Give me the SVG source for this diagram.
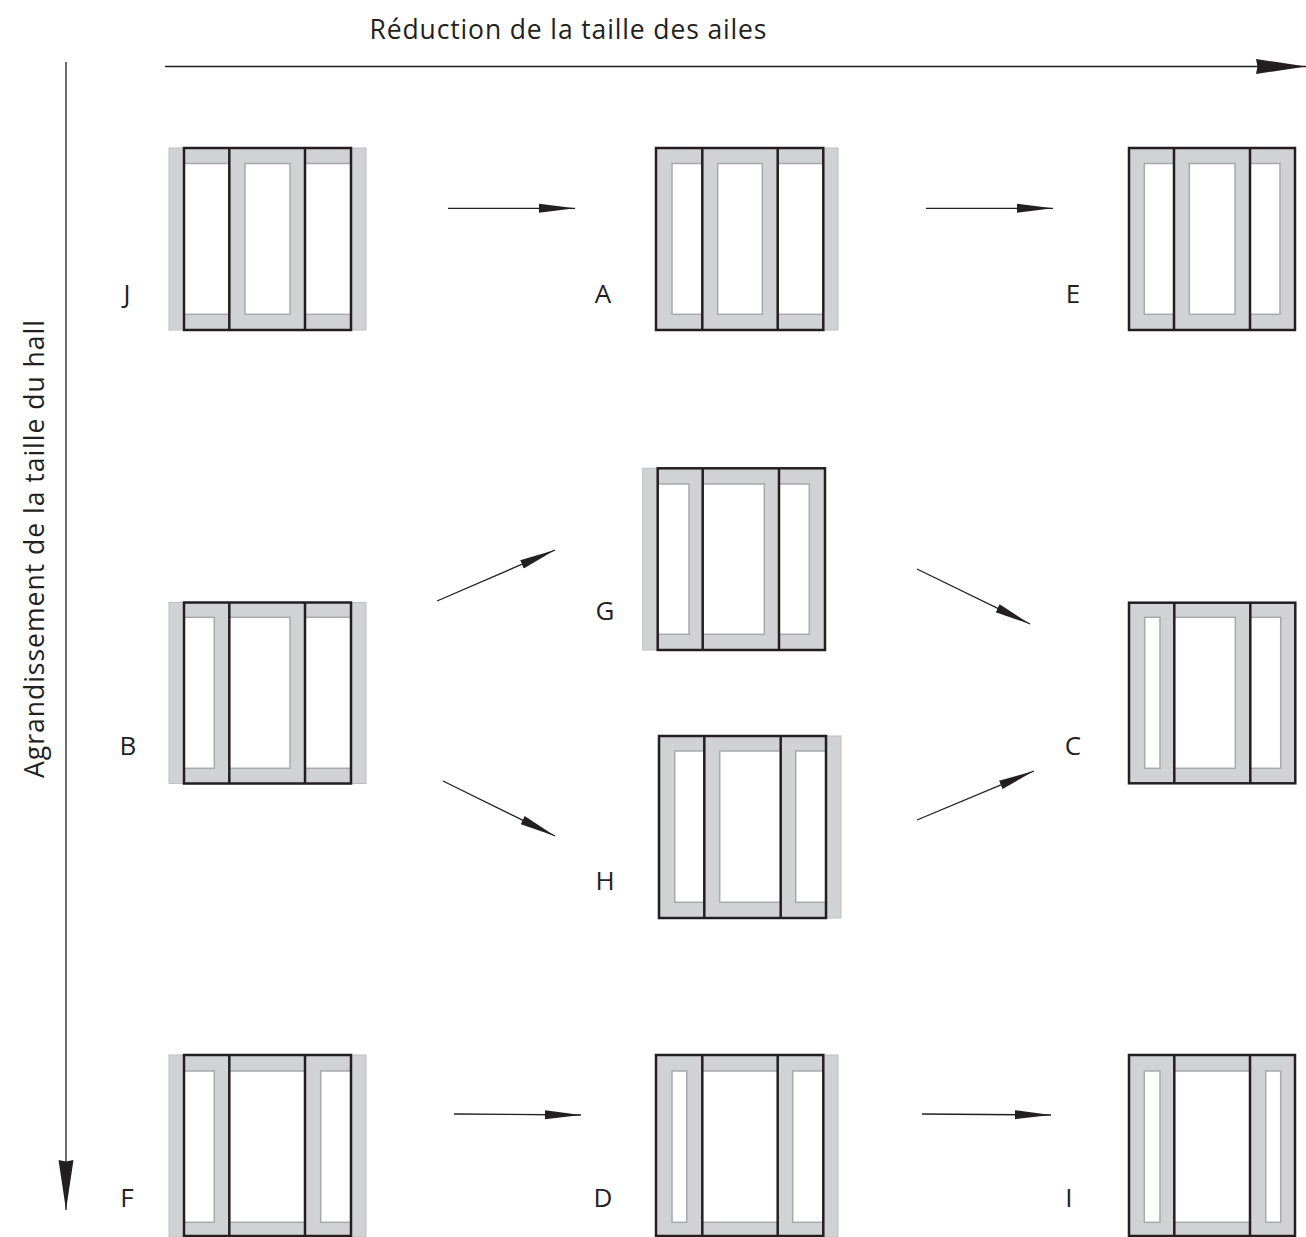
<svg xmlns="http://www.w3.org/2000/svg" width="1306" height="1237" viewBox="0 0 1306 1237">
<style>
.g{fill:#d1d2d4;stroke:#bcbec0;stroke-width:1}
.h{fill:#fff;stroke:#a7a9ac;stroke-width:1.5}
.k{fill:none;stroke:#231f20;stroke-width:2.5}
.c{stroke:#231f20;stroke-width:1.3;fill:none}
.t{font-family:"Open Sans","Liberation Sans",sans-serif;font-size:26.5px;fill:#231f20}
.l{font-family:"Open Sans","Liberation Sans",sans-serif;font-size:26px;fill:#231f20;text-anchor:middle}
</style>
<defs>
<marker id="ah" markerUnits="userSpaceOnUse" markerWidth="40" markerHeight="12" refX="36" refY="6" orient="auto">
<path d="M0,1.5 L36,6 L0,10.5 Z" fill="#231f20"/>
</marker>
<marker id="big" markerUnits="userSpaceOnUse" markerWidth="52" markerHeight="18" refX="50" refY="9" orient="auto">
<path d="M0,1.5 L50,9 L0,16.5 L1.5,9 Z" fill="#231f20"/>
</marker>
</defs>
<rect width="1306" height="1237" fill="#fff"/>

<g id="axes">
<line class="c" x1="165" y1="66.5" x2="1306" y2="66.5" marker-end="url(#big)"/>
<text class="t" x="568" y="39" text-anchor="middle" textLength="397">Réduction de la taille des ailes</text>
<line class="c" x1="66" y1="62" x2="66" y2="1210" marker-end="url(#big)"/>
<text class="t" transform="translate(44,549) rotate(-90)" x="0" y="0" text-anchor="middle" textLength="458">Agrandissement de la taille du hall</text>
</g>

<g id="J">
<rect class="g" x="169" y="148" width="197" height="182"/>
<rect class="h" x="184" y="163.5" width="45.3" height="150.8"/>
<rect class="h" x="245" y="163.5" width="45" height="150.8"/>
<rect class="h" x="305" y="163.5" width="46" height="150.8"/>
<rect class="k" x="184" y="148" width="167" height="182"/>
<line class="k" x1="229.3" y1="148" x2="229.3" y2="330"/>
<line class="k" x1="305" y1="148" x2="305" y2="330"/>
<text class="l" x="127" y="303">J</text>
</g>

<g id="A">
<rect class="g" x="656" y="148" width="182" height="182"/>
<rect class="h" x="672" y="163.5" width="30.3" height="150.8"/>
<rect class="h" x="717.7" y="163.5" width="44.6" height="150.8"/>
<rect class="h" x="777.7" y="163.5" width="45.6" height="150.8"/>
<rect class="k" x="656" y="148" width="167.3" height="182"/>
<line class="k" x1="702.3" y1="148" x2="702.3" y2="330"/>
<line class="k" x1="777.7" y1="148" x2="777.7" y2="330"/>
<text class="l" x="603" y="303">A</text>
</g>

<g id="E">
<rect class="g" x="1129" y="148" width="166" height="182"/>
<rect class="h" x="1144.3" y="163.5" width="29.7" height="150.8"/>
<rect class="h" x="1189.3" y="163.5" width="45.7" height="150.8"/>
<rect class="h" x="1250" y="163.5" width="30" height="150.8"/>
<rect class="k" x="1129" y="148" width="166" height="182"/>
<line class="k" x1="1174" y1="148" x2="1174" y2="330"/>
<line class="k" x1="1250" y1="148" x2="1250" y2="330"/>
<text class="l" x="1073" y="303">E</text>
</g>

<g id="G">
<rect class="g" x="642.7" y="468.3" width="182.3" height="181.7"/>
<rect class="h" x="657.7" y="484" width="31.3" height="150.3"/>
<rect class="h" x="702.7" y="484" width="61.6" height="150.3"/>
<rect class="h" x="779" y="484" width="30.3" height="150.3"/>
<rect class="k" x="657.7" y="468.3" width="167.3" height="181.7"/>
<line class="k" x1="702.7" y1="468.3" x2="702.7" y2="650"/>
<line class="k" x1="779" y1="468.3" x2="779" y2="650"/>
<text class="l" x="605" y="620">G</text>
</g>

<g id="B">
<rect class="g" x="169" y="602.5" width="197" height="181"/>
<rect class="h" x="184" y="617.3" width="30.3" height="151"/>
<rect class="h" x="229.3" y="617.3" width="60.7" height="151"/>
<rect class="h" x="305" y="617.3" width="46" height="151"/>
<rect class="k" x="184" y="602.5" width="167" height="181"/>
<line class="k" x1="229.3" y1="602.5" x2="229.3" y2="783.5"/>
<line class="k" x1="305" y1="602.5" x2="305" y2="783.5"/>
<text class="l" x="128" y="755">B</text>
</g>

<g id="H">
<rect class="g" x="659" y="736" width="182" height="182"/>
<rect class="h" x="674.7" y="751" width="29.6" height="151.3"/>
<rect class="h" x="719.7" y="751" width="61" height="151.3"/>
<rect class="h" x="795.7" y="751" width="30.3" height="151.3"/>
<rect class="k" x="659" y="736" width="167" height="182"/>
<line class="k" x1="704.3" y1="736" x2="704.3" y2="918"/>
<line class="k" x1="780.7" y1="736" x2="780.7" y2="918"/>
<text class="l" x="605" y="890">H</text>
</g>

<g id="C">
<rect class="g" x="1129" y="602.7" width="166.3" height="180.6"/>
<rect class="h" x="1144.7" y="617.3" width="15.3" height="151"/>
<rect class="h" x="1174.3" y="617.3" width="61" height="151"/>
<rect class="h" x="1250.3" y="617.3" width="30.4" height="151"/>
<rect class="k" x="1129" y="602.7" width="166.3" height="180.6"/>
<line class="k" x1="1174.3" y1="602.7" x2="1174.3" y2="783.3"/>
<line class="k" x1="1250.3" y1="602.7" x2="1250.3" y2="783.3"/>
<text class="l" x="1073" y="755">C</text>
</g>

<g id="F">
<rect class="g" x="169" y="1055" width="197" height="182"/>
<rect class="h" x="184" y="1071" width="30.3" height="151.3"/>
<rect class="h" x="229.3" y="1071" width="75.7" height="151.3"/>
<rect class="h" x="320.7" y="1071" width="30.3" height="151.3"/>
<rect class="k" x="184" y="1055" width="167" height="181"/>
<line class="k" x1="229.3" y1="1055" x2="229.3" y2="1236"/>
<line class="k" x1="305" y1="1055" x2="305" y2="1236"/>
<text class="l" x="127" y="1207">F</text>
</g>

<g id="D">
<rect class="g" x="656" y="1055" width="182" height="182"/>
<rect class="h" x="672" y="1071" width="14.7" height="151.3"/>
<rect class="h" x="702.3" y="1071" width="75.4" height="151.3"/>
<rect class="h" x="792.7" y="1071" width="30.6" height="151.3"/>
<rect class="k" x="656" y="1055" width="167.3" height="181"/>
<line class="k" x1="702.3" y1="1055" x2="702.3" y2="1236"/>
<line class="k" x1="777.7" y1="1055" x2="777.7" y2="1236"/>
<text class="l" x="603" y="1207">D</text>
</g>

<g id="I">
<rect class="g" x="1129" y="1055" width="166" height="182"/>
<rect class="h" x="1144.3" y="1071" width="15.7" height="151.3"/>
<rect class="h" x="1174.3" y="1071" width="75.7" height="151.3"/>
<rect class="h" x="1265.7" y="1071" width="15" height="151.3"/>
<rect class="k" x="1129" y="1055" width="166" height="181"/>
<line class="k" x1="1174.3" y1="1055" x2="1174.3" y2="1236"/>
<line class="k" x1="1250" y1="1055" x2="1250" y2="1236"/>
<text class="l" x="1069" y="1207">I</text>
</g>

<g id="connectors">
<line class="c" x1="448" y1="208.3" x2="575" y2="208.3" marker-end="url(#ah)"/>
<line class="c" x1="926" y1="208.3" x2="1053" y2="208.3" marker-end="url(#ah)"/>
<line class="c" x1="437" y1="601" x2="555" y2="550" marker-end="url(#ah)"/>
<line class="c" x1="443" y1="781" x2="555" y2="836" marker-end="url(#ah)"/>
<line class="c" x1="917" y1="569" x2="1030" y2="624" marker-end="url(#ah)"/>
<line class="c" x1="917" y1="820" x2="1034" y2="771" marker-end="url(#ah)"/>
<line class="c" x1="454" y1="1114" x2="581" y2="1115" marker-end="url(#ah)"/>
<line class="c" x1="922" y1="1114" x2="1051" y2="1115" marker-end="url(#ah)"/>
</g>
</svg>
